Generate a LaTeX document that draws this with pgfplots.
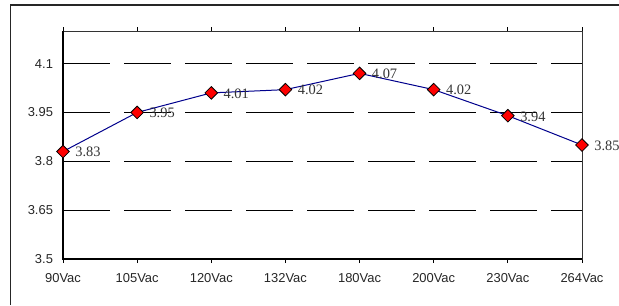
\documentclass[border=0pt]{standalone}
\usepackage{fontspec}
\setmainfont{Liberation Sans}
\newfontfamily\tnr{Liberation Serif}
\usepackage{pgfplots}
\pgfplotsset{compat=1.18}
\begin{document}
\begin{tikzpicture}[x=1pt,y=1pt]
\useasboundingbox (0,0) rectangle (464.25,228.75);
\draw[line width=0.9pt, black!85] (7.8,0) -- (7.8,225) -- (464.25,225);
\begin{axis}[
  at={(47.25pt,34.5pt)}, anchor=south west,
  scale only axis, width=389.25pt, height=171pt,
  clip=false,
  xmin=0, xmax=7, ymin=3.5, ymax=4.2,
  xtick={0,...,7},
  xticklabels={90Vac,105Vac,120Vac,132Vac,180Vac,200Vac,230Vac,264Vac},
  ytick={3.5,3.65,3.8,3.95,4.1},
  yticklabels={3.5,3.65,3.8,3.95,4.1},
  xtick align=outside, major tick length=3pt,
  ytick style={draw=none},
  xtick style={black, line width=0.6pt},
  ymajorgrids,
  grid style={black, line width=0.6pt, dash pattern=on 35.25pt off 10.5pt},
  axis line style={black!80, line width=0.6pt},
  ticklabel style={font=\fontsize{9.7}{11}\selectfont, text=black!85},
  /pgf/number format/assume math mode=true,
  yticklabel style={xshift=-4pt},
  xticklabel style={yshift=-4pt},
  nodes near coords={\pgfmathprintnumber[fixed,fixed zerofill,precision=2]{\pgfplotspointmeta}},
  nodes near coords style={anchor=west, inner sep=0pt, xshift=9pt, yshift=-0.5pt,
     font=\tnr\fontsize{10.8}{12}\selectfont, text=black!80},
]
\addplot[color={rgb,255:red,0;green,0;blue,140}, line width=0.75pt,
  mark=square*, mark size=3.35pt,
  mark options={rotate=45, fill=red, draw=black, line width=0.6pt}]
  coordinates {(0,3.83) (1,3.95) (2,4.01) (3,4.02) (4,4.07) (5,4.02) (6,3.94) (7,3.85)};
\draw[black, line width=1.3pt] (rel axis cs:0,1) -- (rel axis cs:0,0) -- (rel axis cs:1,0);
\end{axis}
\end{tikzpicture}
\end{document}
